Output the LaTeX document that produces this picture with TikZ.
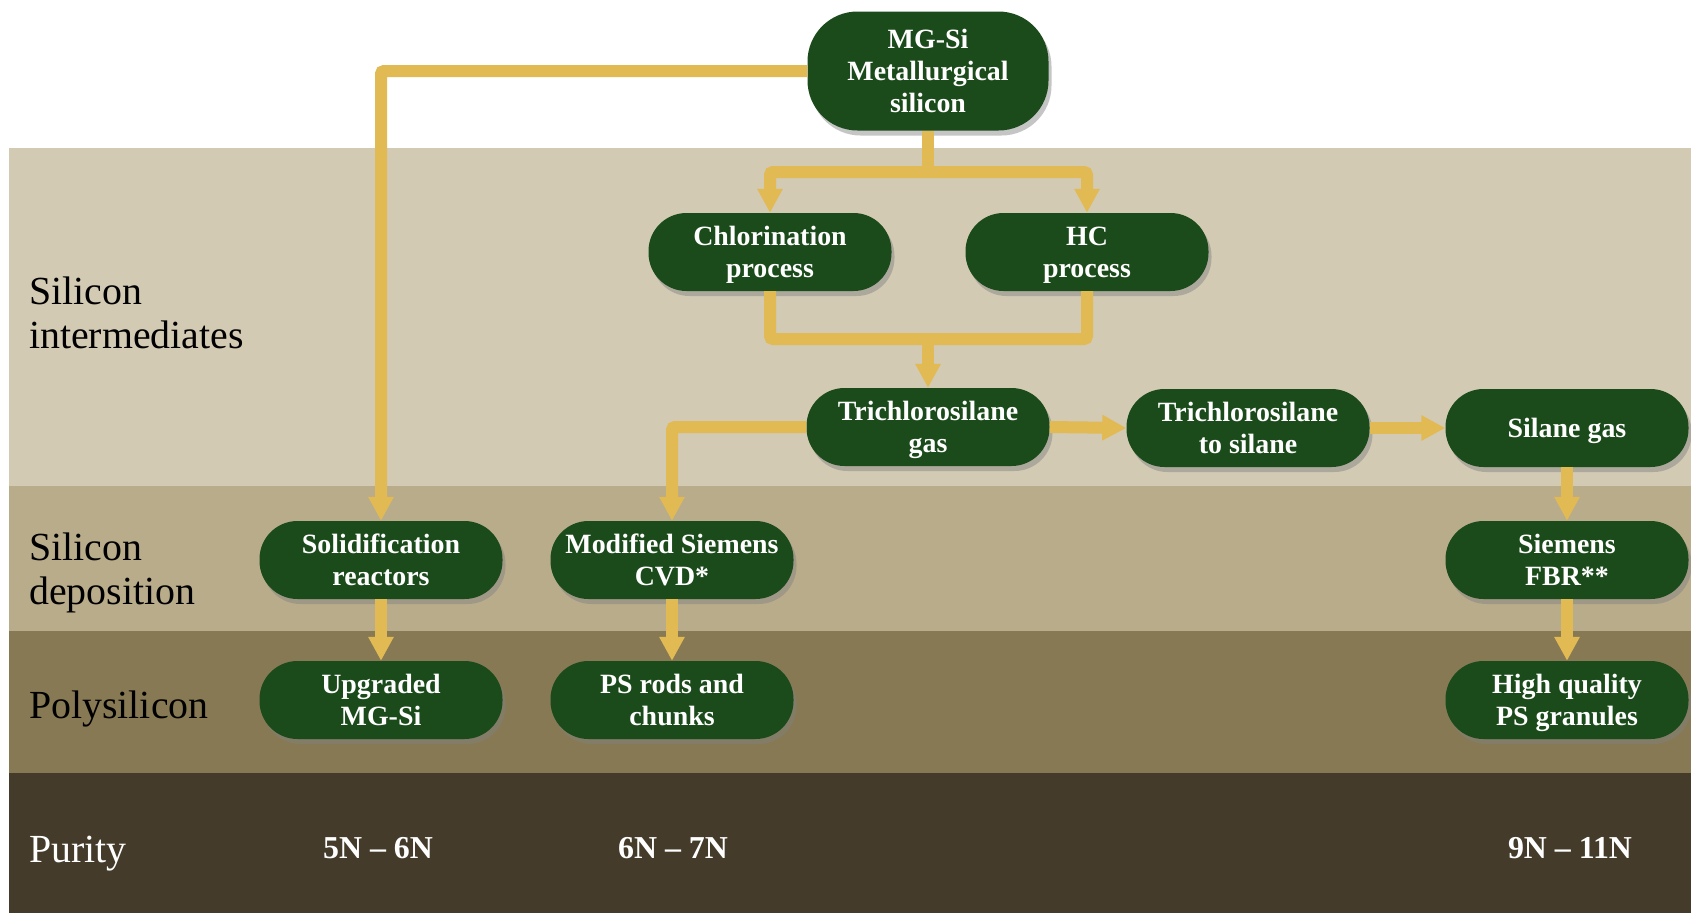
\documentclass[tikz,border=0pt]{standalone}
\usepackage{fontspec}
\setmainfont{Liberation Serif}
\usetikzlibrary{arrows.meta,shadows}
\definecolor{bandA}{RGB}{211,202,180}
\definecolor{bandB}{RGB}{185,172,139}
\definecolor{bandC}{RGB}{135,121,83}
\definecolor{bandD}{RGB}{68,59,42}
\definecolor{nodegreen}{RGB}{27,75,27}
\definecolor{gold}{RGB}{226,186,84}
\begin{document}
\begin{tikzpicture}[x=1bp,y=-1bp,
  box/.style={fill=nodegreen, text=white, font=\fontsize{28}{32}\selectfont\bfseries,
    align=center, minimum width=243bp, minimum height=78bp, rounded corners=38bp,
    inner sep=0pt, text depth=0pt, drop shadow={shadow xshift=3bp,shadow yshift=-5bp,opacity=0.45}},
  flow/.style={draw=gold, line width=12bp, rounded corners=3bp, -{Triangle[length=24bp,width=24bp]}},
  link/.style={draw=gold, line width=12bp, rounded corners=3bp},
  lab/.style={anchor=base west, inner sep=0pt, font=\fontsize{40}{44}\selectfont},
  pur/.style={text=white, inner sep=0pt, font=\fontsize{32}{36}\selectfont\bfseries}]
\useasboundingbox (0,0) rectangle (1691,913);
\fill[white] (0,0) rectangle (1691,913);
\fill[bandA] (9,148) rectangle (1691,486);
\fill[bandB] (9,486) rectangle (1691,631);
\fill[bandC] (9,631) rectangle (1691,773);
\fill[bandD] (9,773) rectangle (1691,913);

% left labels
\node[lab] (l1a) at (29,304) {Silicon};
\node[lab] (l1b) at (29,348) {intermediates};
\node[lab] (l2a) at (29,560) {Silicon};
\node[lab] (l2b) at (29,604) {deposition};
\node[lab] (l3) at (29,718) {Polysilicon};
\node[lab, text=white] (l4) at (29,862) {Purity};

% nodes
\node[box, minimum width=241bp, minimum height=119bp, rounded corners=50bp] (mg) at (928,71) {MG-Si\\Metallurgical\\silicon};
\node[box] (chl) at (770,252) {Chlorination\\process};
\node[box] (hc) at (1087,252) {HC\\process};
\node[box] (tg) at (928,427) {Trichlorosilane\\gas};
\node[box] (ts) at (1248,428) {Trichlorosilane\\to silane};
\node[box] (sg) at (1567,428) {Silane gas};
\node[box] (sol) at (381,560) {Solidification\\reactors};
\node[box] (mod) at (672,560) {Modified Siemens\\CVD*};
\node[box] (fbr) at (1567,560) {Siemens\\FBR**};
\node[box] (upg) at (381,700) {Upgraded\\MG-Si};
\node[box] (ps) at (672,700) {PS rods and\\chunks};
\node[box] (hq) at (1567,700) {High quality\\PS granules};

% purity values
\node[pur] (p1) at (378,848) {5N – 6N};
\node[pur] (p2) at (673,848) {6N – 7N};
\node[pur] (p3) at (1570,848) {9N – 11N};

% connectors
\coordinate (j1) at (928,172);
\coordinate (j2) at (928,339);
\draw[link] (mg.south) -- (j1);
\draw[flow] (j1) -| (chl.north);
\draw[flow] (j1) -| (hc.north);
\draw[link] (chl.south) |- (j2) -| (hc.south);
\draw[flow] (j2) -- (tg.north);
\draw[flow] (mg.west) -| (sol.north);
\draw[flow] (tg.west) -| (mod.north);
\draw[flow] (tg.east) -- (ts.west);
\draw[flow] (ts.east) -- (sg.west);
\draw[flow] (sg.south) -- (fbr.north);
\draw[flow] (fbr.south) -- (hq.north);
\draw[flow] (sol.south) -- (upg.north);
\draw[flow] (mod.south) -- (ps.north);
\end{tikzpicture}
\end{document}
